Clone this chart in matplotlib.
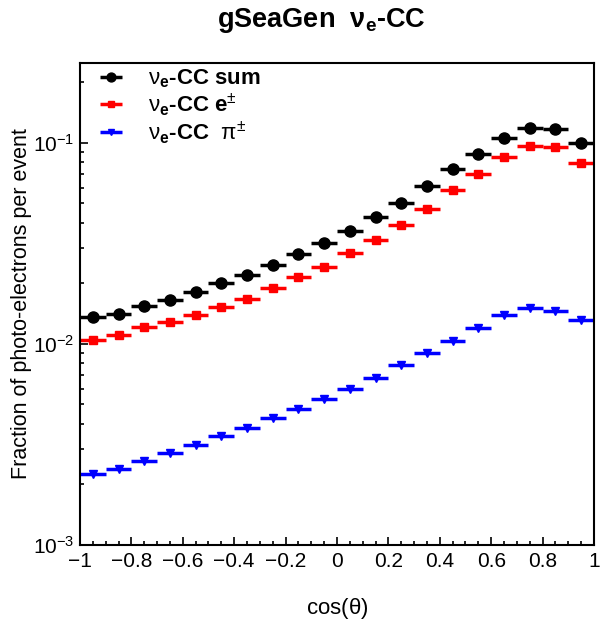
import matplotlib
matplotlib.use("Agg")
import matplotlib.pyplot as plt
import numpy as np
from matplotlib.ticker import LogLocator, MultipleLocator

plt.rcParams['font.family'] = ['Liberation Sans', 'DejaVu Sans']
plt.rcParams['mathtext.fontset'] = 'custom'
plt.rcParams['mathtext.rm'] = 'Liberation Sans'
plt.rcParams['mathtext.bf'] = 'Liberation Sans:bold'

# 20 bins in cos(theta)
bin_edges = np.linspace(-1, 1, 21)

sum_vals = [0.0136, 0.0141, 0.0155, 0.0166, 0.0182, 0.0200, 0.0220, 0.0246, 0.0279, 0.0319,
            0.0365, 0.0428, 0.0504, 0.0609, 0.0738, 0.0882, 0.106, 0.119, 0.117, 0.100]
e_vals = [0.0105, 0.0111, 0.0122, 0.0128, 0.0140, 0.0152, 0.0167, 0.0190, 0.0215, 0.0241,
          0.0282, 0.0330, 0.0389, 0.0469, 0.0581, 0.0702, 0.0849, 0.0966, 0.0951, 0.0796]
pi_vals = [0.00226, 0.00240, 0.00261, 0.00287, 0.00316, 0.00348, 0.00383, 0.00430, 0.00473, 0.00531,
           0.00600, 0.00681, 0.00788, 0.00898, 0.01035, 0.01198, 0.0139, 0.0151, 0.0146, 0.0132]

labels = [r"$\mathrm{\nu}_\mathbf{e}$-CC sum",
          r"$\mathrm{\nu}_\mathbf{e}$-CC e$^{\pm}$",
          r"$\mathrm{\nu}_\mathbf{e}$-CC  $\mathrm{\pi}^{\pm}$"]
xtick_labels = ['\u22121', '\u22120.8', '\u22120.6', '\u22120.4', '\u22120.2', '0',
                '0.2', '0.4', '0.6', '0.8', '1']

centers = 0.5 * (bin_edges[:-1] + bin_edges[1:])
half_w = 0.5 * np.diff(bin_edges)

fig = plt.figure(figsize=(6.0, 6.21), dpi=100)
ax = fig.add_axes([0.1333, 0.1224, 0.8567, 0.7762])

ax.errorbar(centers, sum_vals, xerr=half_w, fmt='o', color='black', ms=8, elinewidth=2.5,
            capsize=0, label=labels[0])
ax.errorbar(centers, e_vals, xerr=half_w, fmt='s', color='#ff0000', ms=5.5, elinewidth=2.5,
            capsize=0, label=labels[1])
ax.errorbar(centers, pi_vals, xerr=half_w, fmt='v', color='#0000ff', ms=6, elinewidth=2.5,
            capsize=0, label=labels[2])

ax.set_yscale('log')
ax.set_xlim(-1, 1)
ax.set_ylim(1e-3, 0.25)

ax.set_xticks(np.linspace(-1, 1, 11))
ax.set_xticklabels(xtick_labels)
ax.xaxis.set_minor_locator(MultipleLocator(0.05))
ax.yaxis.set_major_locator(LogLocator(base=10, numticks=10))
ax.yaxis.set_minor_locator(LogLocator(base=10, subs=np.arange(2, 10), numticks=20))

ax.tick_params(which='both', direction='in', top=False, right=False, labelsize=15, width=1.2)
ax.tick_params(which='major', length=5.5)
ax.tick_params(which='minor', length=2.8)
ax.tick_params(axis='x', pad=5)
ax.tick_params(axis='y', pad=4)
for s in ax.spines.values():
    s.set_linewidth(1.5)

ax.set_xlabel(r"cos($\mathrm{\theta}$)", fontsize=16, labelpad=18)
ax.set_ylabel("Fraction of photo-electrons per event", fontsize=15.5, labelpad=1)
fig.suptitle(r"gSeaGen  $\mathbf{\nu}_\mathbf{e}$-CC", fontsize=19.5, fontweight='bold', x=0.535, y=0.99)

leg = ax.legend(loc='upper left', frameon=False, prop={'weight': 'bold', 'size': 16},
                handlelength=2.4, handletextpad=0.45, labelspacing=0.05, borderaxespad=0.0,
                borderpad=0.2, markerscale=0.8)

fig.savefig("out.png", dpi=100)
